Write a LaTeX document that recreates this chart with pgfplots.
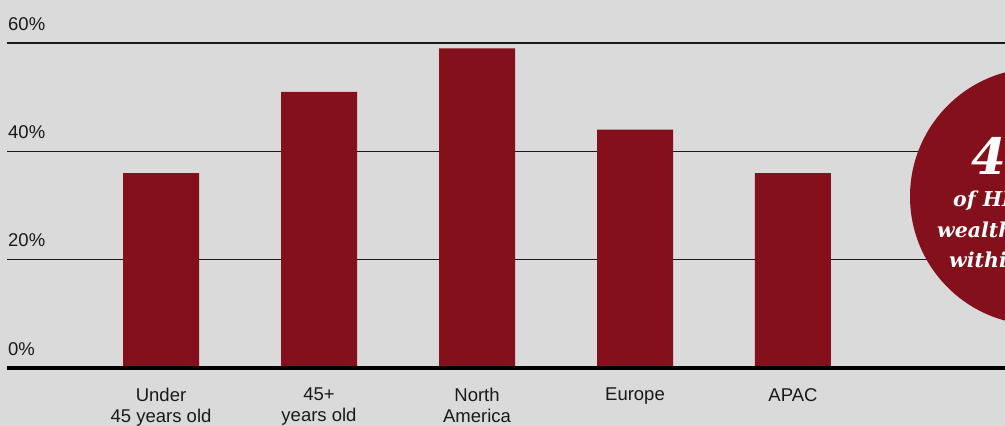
\documentclass[border=0pt]{standalone}
\usepackage{pgfplots}
\pgfplotsset{compat=1.18}
\usepackage{fontspec}
\setmainfont{Liberation Sans}
\newfontfamily\circfont{DejaVu Serif}
\definecolor{bg}{RGB}{218,218,218}
\definecolor{barred}{RGB}{131,16,26}
\begin{document}
\begin{tikzpicture}[x=1pt,y=1pt]
\useasboundingbox (0,0) rectangle (1005,426);
\clip (0,0) rectangle (1005,426);
\fill[bg] (0,0) rectangle (1005,426);
\begin{axis}[
  at={(7pt,58pt)}, anchor=south west,
  scale only axis, width=998pt, height=325pt,
  xmin=-0.975, xmax=5.342, ymin=0, ymax=60,
  axis line style={draw=none},
  ytick={0,20,40,60},
  yticklabels={0\%,20\%,40\%,60\%},
  ymajorgrids, grid style={black!90, line width=1.2pt},
  major tick length=0pt,
  yticklabel style={anchor=base west, inner sep=0pt, xshift=1pt, yshift=13pt, font=\fontsize{18.5}{20.5}\selectfont, text=black!90},
  xtick={0,1,2,3,4},
  xticklabels={{Under\\45 years old},{45+\\years old},{North\\America},{Europe},{APAC}},
  xticklabel style={anchor=north, align=center, inner sep=0pt, yshift=-20pt, font=\fontsize{18.5}{20.5}\selectfont, text=black!90},
  ybar, bar width=76pt,
  clip=false,
]
\addplot[fill=barred, draw=none] coordinates {(0,36) (1,51) (2,59) (3,44) (4,36)};
\draw[line width=4.5pt, black] (rel axis cs:0,0) -- (rel axis cs:1,0);
\end{axis}
\fill[barred] (1038.5,229.5) circle (128.5);
\node[anchor=base west, inner sep=0pt, text=white, font=\circfont\bfseries\itshape\fontsize{50}{50}\selectfont] at (971,251) {4};
\node[anchor=base west, inner sep=0pt, text=white, font=\circfont\bfseries\itshape\fontsize{20.5}{20.5}\selectfont] at (953,219) {of HNW};
\node[anchor=base west, inner sep=0pt, text=white, font=\circfont\bfseries\itshape\fontsize{20.5}{20.5}\selectfont] at (937,188) {wealth};
\node[anchor=base west, inner sep=0pt, text=white, font=\circfont\bfseries\itshape\fontsize{20.5}{20.5}\selectfont] at (949,158) {within};
\end{tikzpicture}
\end{document}
